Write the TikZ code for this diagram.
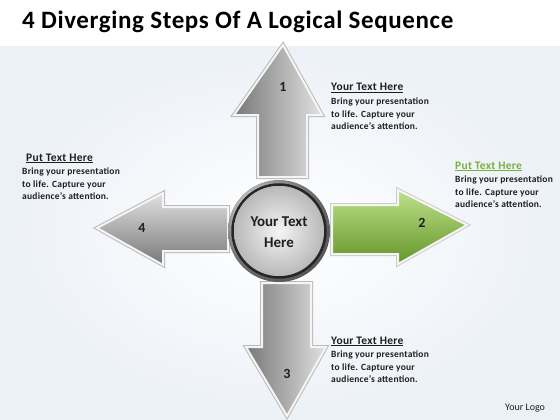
\documentclass[tikz,border=0pt]{standalone}
\usepackage{fontspec}
\setmainfont{Carlito}
\newfontfamily\bodyfont[LetterSpace=2.5]{Carlito}
\newfontfamily\titlefont[LetterSpace=2.5]{Carlito}
\usetikzlibrary{shadings}
\definecolor{bgc}{RGB}{236,241,247}
\definecolor{adark}{RGB}{120,120,120}
\definecolor{alight}{RGB}{225,225,225}
\definecolor{gdark}{RGB}{100,150,40}
\definecolor{glight}{RGB}{190,225,140}
\definecolor{ghead}{RGB}{120,176,60}
\definecolor{txt}{RGB}{30,30,30}
\begin{document}
\begin{tikzpicture}[x=1pt,y=-1pt,
  outer/.style={draw=gray!55,line width=4pt,line join=miter},
  inner/.style={draw=white!92!gray,line width=2pt,line join=miter},
  vgray/.style={inner,left color=adark,right color=alight},
  hgray/.style={inner,top color=alight,bottom color=adark},
  vgreen/.style={inner,top color=glight,bottom color=gdark},
  num/.style={font=\bfseries\fontsize{14}{16}\selectfont,text=txt},
  head/.style={anchor=base west,inner sep=0pt,font=\bodyfont\bfseries\fontsize{11.5}{13}\selectfont,text=txt},
  body/.style={anchor=north west,inner sep=0pt,align=left,font=\bodyfont\bfseries\fontsize{9.5}{12.3}\selectfont,text=txt}]
\useasboundingbox (0,0) rectangle (560,420);
\fill[white] (0,0) rectangle (560,420);
\shade[inner color=white,outer color=bgc] (0,47) rectangle (560,420);
\node[anchor=base west,inner sep=0pt,font=\titlefont\bfseries\fontsize{25}{28}\selectfont,text=black] (title) at (22,29) {4 Diverging Steps Of A Logical Sequence};
% up arrow
\path[outer] (283,45) -- (322,115) -- (307,115) -- (307,177) -- (258,177) -- (258,115) -- (234,115) -- cycle;
\path[vgray] (283,45) -- (322,115) -- (307,115) -- (307,177) -- (258,177) -- (258,115) -- (234,115) -- cycle;
% left arrow
\path[outer] (97,228) -- (163,193) -- (163,207) -- (228,207) -- (228,251) -- (163,251) -- (163,265) -- cycle;
\path[hgray] (97,228) -- (163,193) -- (163,207) -- (228,207) -- (228,251) -- (163,251) -- (163,265) -- cycle;
% down arrow
\path[outer] (262,283) -- (311,283) -- (311,347) -- (326,347) -- (287,416) -- (246,347) -- (262,347) -- cycle;
\path[vgray] (262,283) -- (311,283) -- (311,347) -- (326,347) -- (287,416) -- (246,347) -- (262,347) -- cycle;
% right arrow
\path[outer,draw=gray!40] (332,205) -- (398,205) -- (398,190) -- (467,225) -- (398,264) -- (398,254) -- (332,254) -- cycle;
\path[vgreen] (332,205) -- (398,205) -- (398,190) -- (467,225) -- (398,264) -- (398,254) -- (332,254) -- cycle;
% centre
\shade[ball color=gray!30] (279,231) circle (51);
\draw[black!85,line width=2.5pt] (279,231) circle (46.5);
\shade[inner color=white!92!gray,outer color=gray!55] (279,231) circle (45);
\node[align=center,font=\bfseries\fontsize{15}{21}\selectfont,text=txt] (centre) at (279,232) {Your Text\\Here};
% numbers
\node[num] (n1) at (283,87) {1};
\node[num] (n2) at (422,223) {2};
\node[num] (n3) at (287,374) {3};
\node[num] (n4) at (142,228) {4};
% texts
\node[head] (h1) at (331,91) {\underline{Your Text Here}};
\node[body] (b1) at (331,98) {Bring your presentation\\to life. Capture your\\audience’s attention.};
\node[head] (h4) at (26,161) {\underline{Put Text Here}};
\node[body] (b4) at (22,168) {Bring your presentation\\to life. Capture your\\audience’s attention.};
\node[head,text=ghead] (h2) at (455,169) {\underline{Put Text Here}};
\node[body] (b2) at (455,176) {Bring your presentation\\to life. Capture your\\audience’s attention.};
\node[head] (h3) at (331,344) {\underline{Your Text Here}};
\node[body] (b3) at (331,351) {Bring your presentation\\to life. Capture your\\audience’s attention.};
\node[anchor=base west,inner sep=0pt,font=\fontsize{10}{12}\selectfont,text=txt] (logo) at (505,410) {Your Logo};
\end{tikzpicture}
\end{document}
